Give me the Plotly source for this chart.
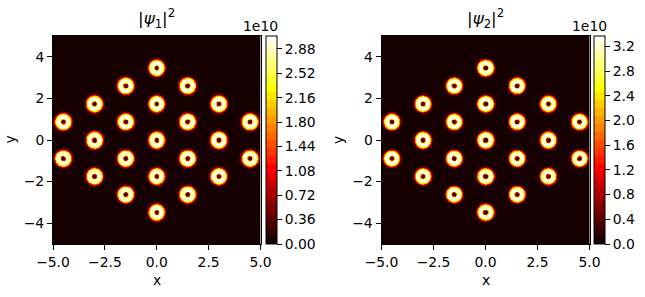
import numpy as np
import plotly.graph_objects as go

W, H = 645, 297

# vortex centres (same in both panels)
centre_x = [-4.5, -4.5, -3, -3, -3, -1.5, -1.5, -1.5, -1.5, 0, 0, 0, 0, 0,
            1.5, 1.5, 1.5, 1.5, 3, 3, 3, 4.5, 4.5]
centre_y = [0.87, -0.87, 1.73, 0, -1.73, 2.6, 0.87, -0.87, -2.6, 3.46, 1.73, 0, -1.73, -3.46,
            2.6, 0.87, -0.87, -2.6, 1.73, 0, -1.73, 0.87, -0.87]

# density across one ring, in units of 1e10, one value per radius bin
ring_bin = 0.025
ring_psi1 = [0, 0.02, 0.1, 0.4, 1.0, 1.9, 2.6, 2.95, 3.05, 3.05, 3.05, 3.0, 2.9, 2.7, 2.35, 1.9,
             1.4, 0.95, 0.55, 0.3, 0.12, 0.04, 0]
ring_psi2 = [0, 0.02, 0.12, 0.45, 1.1, 2.1, 2.9, 3.25, 3.35, 3.35, 3.35, 3.25, 3.05, 2.75, 2.35, 1.85,
             1.35, 0.9, 0.5, 0.25, 0.1, 0.03, 0]

ticks_psi1 = [0, 0.36, 0.72, 1.08, 1.44, 1.80, 2.16, 2.52, 2.88]
ticks_psi2 = [0, 0.4, 0.8, 1.2, 1.6, 2.0, 2.4, 2.8, 3.2]
zmax_psi1, zmax_psi2 = 3.07, 3.37
step_psi1, step_psi2 = 0.12, 0.13

grid = np.linspace(-5, 5, 417)


def density(ring):
    # nearest-bin lookup of the ring around each centre
    ring = np.array(ring)
    z = np.zeros((grid.size, grid.size))
    gx, gy = np.meshgrid(grid, grid)
    for cx, cy in zip(centre_x, centre_y):
        idx = np.rint(np.hypot(gx - cx, gy - cy) / ring_bin).astype(int)
        z = np.maximum(z, ring[np.clip(idx, 0, ring.size - 1)])
    return z


def hot(t):
    # matplotlib "hot" map
    r = np.interp(t, [0, 0.365, 1], [10, 255, 255])
    g = np.interp(t, [0, 0.365, 0.746, 1], [0, 0, 255, 255])
    b = np.interp(t, [0, 0.746, 1], [0, 0, 255])
    return f"rgb({r:.0f},{g:.0f},{b:.0f})"


def stepped_hot(zmax, step):
    n = int(np.ceil(zmax / step))
    scale = []
    for i in range(n):
        lo, hi = i / n, (i + 1) / n
        scale += [[lo, hot((i + 0.5) / n)], [hi, hot((i + 0.5) / n)]]
    return scale


fig = go.Figure()

panels = [
    (53, 260.5, 265.5, ring_psi1, ticks_psi1, zmax_psi1, step_psi1, "%.2f", "x", "y", 1),
    (381.5, 589.5, 594, ring_psi2, ticks_psi2, zmax_psi2, step_psi2, "%.1f", "x2", "y2", 2),
]
top, bottom = 36, 244
font = dict(family="DejaVu Sans", size=13.9, color="black")

for left, right, cb_left, ring, ticks, zmax, step, fmt, xa, ya, num in panels:
    fig.add_trace(go.Heatmap(
        x=grid, y=grid, z=density(ring), xaxis=xa, yaxis=ya,
        zmin=0, zmax=zmax, zsmooth=False,
        colorscale=stepped_hot(zmax, step),
        colorbar=dict(
            x=cb_left / W, xanchor="left", xpad=0, ypad=0,
            y=1 - (top + bottom) / 2 / H, yanchor="middle",
            len=(bottom - top) / H, lenmode="fraction",
            thickness=10.5, thicknessmode="pixels",
            outlinecolor="black", outlinewidth=1,
            tickvals=ticks, ticktext=[fmt % t for t in ticks],
            ticks="outside", ticklen=5, tickwidth=1, tickcolor="black",
            tickfont=font,
        ),
    ))
    axis = dict(
        range=[-5, 5], showgrid=False, zeroline=False, showline=True, mirror=True,
        linecolor="black", linewidth=1, ticks="outside", ticklen=5, tickwidth=1,
        tickcolor="black", tickfont=font,
    )
    suffix = "" if num == 1 else str(num)
    fig.update_layout({
        "xaxis" + suffix: dict(axis, domain=[left / W, right / W], anchor=ya,
                               tickvals=[-5, -2.5, 0, 2.5, 5],
                               ticktext=["\u22125.0", "\u22122.5", "0.0", "2.5", "5.0"]),
        "yaxis" + suffix: dict(axis, domain=[1 - bottom / H, 1 - top / H], anchor=xa,
                               tickvals=[-4, -2, 0, 2, 4],
                               ticktext=["\u22124", "\u22122", "0", "2", "4"]),
    })
    mid = (left + right) / 2
    fig.add_annotation(x=mid / W, y=1 - 33 / H, xref="paper", yref="paper",
                       xanchor="center", yanchor="bottom",
                       showarrow=False, font=dict(family="DejaVu Sans", size=16.7, color="black"),
                       text=f"|<i>\u03c8</i><sub>{num}</sub>|<sup>2</sup>")
    fig.add_annotation(x=mid / W, y=1 - 279.5 / H, xref="paper", yref="paper",
                       xanchor="center", yanchor="middle",
                       showarrow=False, font=font, text="x")
    fig.add_annotation(x=(left - 43.5) / W, y=1 - 140 / H, xref="paper", yref="paper",
                       xanchor="center", yanchor="middle",
                       showarrow=False, font=font, text="y", textangle=-90)
    fig.add_annotation(x=(cb_left - 7.5) / W, y=1 - 36 / H, xref="paper", yref="paper",
                       xanchor="left", yanchor="bottom", showarrow=False, font=font,
                       text="1e10", xshift=-17)

fig.update_layout(
    width=W, height=H, margin=dict(l=0, r=0, t=0, b=0, autoexpand=False),
    paper_bgcolor="white", plot_bgcolor="white", showlegend=False,
)

# the page keeps a default body margin, which would push the figure off its place
fig.write_html("out.html", config={"displayModeBar": False},
               post_script="document.body.style.margin = '0';")
